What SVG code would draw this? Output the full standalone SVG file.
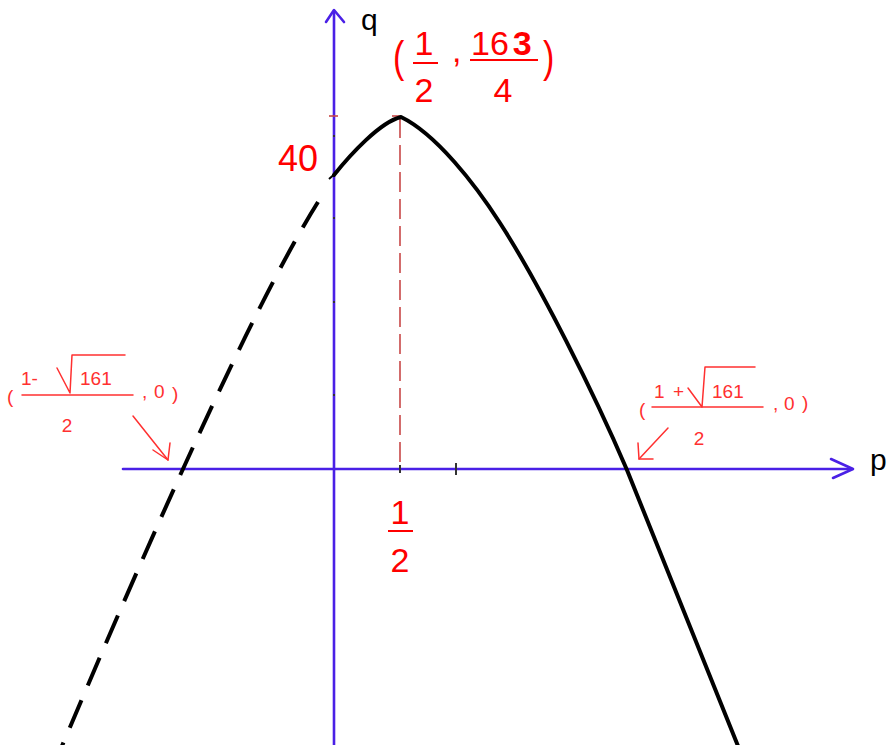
<svg xmlns="http://www.w3.org/2000/svg" width="888" height="745" viewBox="0 0 888 745">
<style>
.axis{stroke:#4a20e6;stroke-width:2.6;fill:none;stroke-linecap:round;stroke-linejoin:round}
.tick{stroke:#333;stroke-width:2;fill:none}
.curve{stroke:#000;stroke-width:4;fill:none;stroke-linecap:round;stroke-linejoin:round}
.dash{stroke-dasharray:30 16;stroke-linecap:butt}
.guide{stroke:#c84848;stroke-width:1.6;stroke-dasharray:20 7;fill:none}
.lbl{font-family:"Liberation Sans",Arial,sans-serif;fill:#ff0000}
.big{font-size:34px}
.small{font-size:19px;fill:#ff3030}
.ann{stroke:#ff3030;stroke-width:1.5;fill:none;stroke-linecap:round;stroke-linejoin:round}
.axl{font-family:"Liberation Sans",Arial,sans-serif;font-size:30px;fill:#000}
</style>
<rect width="888" height="745" fill="#fff"/>
<g id="axes">
<line class="axis" x1="123" y1="469" x2="852" y2="469"/>
<polyline class="axis" points="831,459 853,469 833,478"/>
<line class="axis" x1="334" y1="745" x2="334" y2="11"/>
<polyline class="axis" points="326,22 334,10 344,22"/>
<line class="tick" x1="456" y1="463" x2="456" y2="475"/>
<line class="tick" x1="400" y1="465" x2="400" y2="473"/>
<line class="tick" x1="333" y1="136" x2="335" y2="136"/>
<line class="tick" x1="333" y1="218" x2="335" y2="218"/>
<line class="tick" x1="333" y1="302" x2="335" y2="302"/>
<line class="tick" x1="333" y1="395" x2="335" y2="395"/>
<text class="axl" x="361" y="30">q</text>
<text class="axl" x="870" y="470">p</text>
</g>
<g id="connectors">
<line class="guide" x1="400" y1="118" x2="400" y2="468"/>
<line stroke="#c84848" stroke-width="1.6" x1="329" y1="116" x2="338" y2="116"/>
<line stroke="#c84848" stroke-width="1.6" x1="392" y1="116" x2="400" y2="116"/>
</g>
<g id="curve">
<path class="curve" d="M334,175 C350,155 380,122 401,117 C436,134 475,184 500,223 C540,285 594,393 627,470 L738,746"/>
<path class="curve dash" d="M318,202 Q238,330 62,746"/>
<line stroke="#000" stroke-width="2" x1="329" y1="179" x2="338" y2="171"/>
</g>
<g id="label-40">
<text class="lbl" x="318" y="171" font-size="36" text-anchor="end">40</text>
</g>
<g id="label-half">
<text class="lbl big" x="400" y="524" text-anchor="middle">1</text>
<line stroke="#ff0000" stroke-width="2" x1="388" y1="531" x2="413" y2="531"/>
<text class="lbl big" x="400" y="572" text-anchor="middle">2</text>
</g>
<g id="label-vertex">
<text class="lbl" font-size="34" transform="translate(393,72) scale(1,1.3)">(</text>
<text class="lbl big" x="424" y="55" text-anchor="middle">1</text>
<line stroke="#ff0000" stroke-width="2" x1="413" y1="63" x2="438" y2="63"/>
<text class="lbl big" x="424" y="102" text-anchor="middle">2</text>
<text class="lbl big" x="452" y="62">,</text>
<text class="lbl big" x="471" y="55">16<tspan dx="4" font-weight="bold">3</tspan></text>
<line stroke="#ff0000" stroke-width="2" x1="470" y1="60" x2="538" y2="60"/>
<text class="lbl big" x="503" y="102" text-anchor="middle">4</text>
<text class="lbl" font-size="34" transform="translate(543,72) scale(1,1.3)">)</text>
</g>
<g id="label-left-root">
<text class="lbl small" x="7" y="403">(</text>
<text class="lbl small" x="21" y="385">1-</text>
<polyline class="ann" points="57,368 70,393 72,355 125,355"/>
<text class="lbl small" x="80" y="385">161</text>
<line class="ann" x1="22" y1="395" x2="133" y2="395"/>
<text class="lbl small" x="67" y="432" text-anchor="middle">2</text>
<text class="lbl small" x="142" y="398">,</text>
<text class="lbl small" x="154" y="398">0</text>
<text class="lbl small" x="172" y="400">)</text>
<line class="ann" x1="133" y1="416" x2="168" y2="460"/>
<polyline class="ann" points="153,450 168,460 170,443"/>
</g>
<g id="label-right-root">
<text class="lbl small" x="639" y="416">(</text>
<text class="lbl small" x="654" y="398">1</text>
<text class="lbl small" x="673" y="398">+</text>
<polyline class="ann" points="688,388 702,407 705,367 755,367"/>
<text class="lbl small" x="712" y="398">161</text>
<line class="ann" x1="652" y1="407" x2="763" y2="407"/>
<text class="lbl small" x="699" y="445" text-anchor="middle">2</text>
<text class="lbl small" x="773" y="410">,</text>
<text class="lbl small" x="784" y="410">0</text>
<text class="lbl small" x="802" y="409">)</text>
<line class="ann" x1="668" y1="428" x2="639" y2="459"/>
<polyline class="ann" points="638,443 639,459 653,459"/>
</g>
</svg>
